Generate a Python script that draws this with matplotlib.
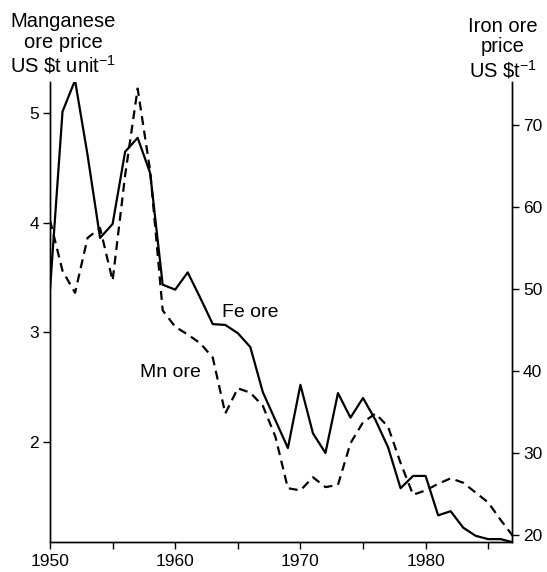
import matplotlib
matplotlib.use("Agg")
import matplotlib.pyplot as plt

plt.rcParams['font.family'] = ['Liberation Sans', 'DejaVu Sans']
plt.rcParams['mathtext.fontset'] = 'custom'
plt.rcParams['mathtext.rm'] = 'Liberation Sans'
plt.rcParams['mathtext.it'] = 'Liberation Sans:italic'

years = list(range(1950, 1988))

# Manganese ore price, US $ per t unit (dashed, left axis)
mn_price = [4.02, 3.56, 3.36, 3.86, 3.95, 3.47, 4.43, 5.22, 4.47, 3.20,
            3.05, 2.98, 2.90, 2.77, 2.26, 2.49, 2.45, 2.33, 2.05, 1.58,
            1.56, 1.68, 1.59, 1.61, 1.99, 2.18, 2.26, 2.14, 1.81, 1.52,
            1.56, 1.62, 1.67, 1.63, 1.54, 1.45, 1.29, 1.14]

# Iron ore price, US $ per t (solid, right axis)
fe_price = [49.9, 71.6, 75.4, 66.3, 56.2, 57.9, 66.7, 68.4, 64.1, 50.5,
            49.9, 52.0, 48.9, 45.7, 45.6, 44.6, 42.9, 37.4, 34.0, 30.6,
            38.3, 32.4, 30.0, 37.3, 34.3, 36.7, 34.0, 30.7, 25.7, 27.2,
            27.2, 22.4, 22.9, 20.9, 19.9, 19.5, 19.5, 19.1]

x_major = [1950, 1960, 1970, 1980]
x_minor = [1955, 1965, 1975, 1985]
left_ticks = [2, 3, 4, 5]
right_ticks = [20, 30, 40, 50, 60, 70]

W, H = 547, 572
fig = plt.figure(figsize=(W / 100, H / 100), dpi=100)
ax = fig.add_axes([50 / W, 1 - 542 / H, 462 / W, 460 / H])
ax2 = ax.twinx()

ax.plot(years, mn_price, color='black', lw=1.6, linestyle=(0, (4, 2.6)))
ax2.plot(years, fe_price, color='black', lw=1.6)

ax.set_xlim(1950, 1986.9)
ax.set_ylim(1.09, 5.28)
ax2.set_ylim(19.15, 75.2)

for a in (ax, ax2):
    a.spines['top'].set_visible(False)
    for s in a.spines.values():
        s.set_linewidth(1.0)

ax.set_xticks(x_major)
ax.set_xticklabels([str(v) for v in x_major])
ax.set_xticks(x_minor, minor=True)
ax.set_yticks(left_ticks)
ax.set_yticklabels([str(v) for v in left_ticks])
ax2.set_yticks(right_ticks)
ax2.set_yticklabels([str(v) for v in right_ticks])

ax.tick_params(axis='both', which='both', direction='out', length=5, width=1,
               labelsize=12.5, pad=3)
ax.tick_params(axis='x', which='both', pad=4)
ax2.tick_params(axis='y', direction='out', length=5, width=1, labelsize=12.5, pad=3)

fig.text(63 / W, 1 - 12 / H, 'Manganese\nore price\nUS \\$t unit$^{-1}$',
         ha='center', va='top', fontsize=14.5, linespacing=1.1)
fig.text(503 / W, 1 - 17 / H, 'Iron ore\nprice\nUS \\$t$^{-1}$',
         ha='center', va='top', fontsize=14.5, linespacing=1.1)

ax2.text(1963.75, 47.1, 'Fe ore', ha='left', va='center', fontsize=14)
ax.text(1957.2, 2.63, 'Mn ore', ha='left', va='center', fontsize=14)

fig.savefig('out.png', dpi=100)
